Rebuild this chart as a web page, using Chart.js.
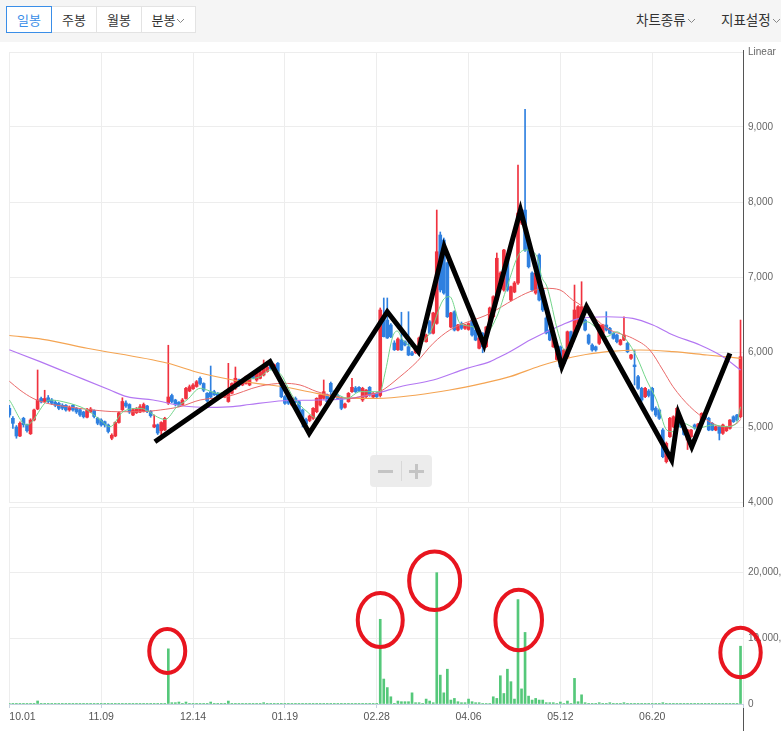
<!DOCTYPE html>
<html lang="ko">
<head>
<meta charset="utf-8">
<title>일봉 차트</title>
<script src="https://cdn.jsdelivr.net/npm/chart.js@4.4.1/dist/chart.umd.min.js"></script>
<style>
html,body{margin:0;padding:0;background:#fff;}
body{position:relative;width:781px;height:731px;overflow:hidden;font-family:"Noto Sans CJK KR","Noto Sans",sans-serif;}
#topbar{position:absolute;left:0;top:0;width:781px;height:42px;background:#f5f5f5;}
.tab{position:absolute;top:6px;height:27px;box-sizing:border-box;border:1px solid #e3e3e3;background:#fff;color:#333;font-size:13px;line-height:25px;text-align:center;}
.tab.on{border-color:#3a8ee8;color:#3a8ee8;z-index:2;}
.menu{position:absolute;top:9px;font-size:13.5px;line-height:20px;color:#333;white-space:nowrap;}
.chev{display:inline-block;vertical-align:middle;margin-left:1px;}
canvas{position:absolute;left:0;}
#axisLine{position:absolute;left:743px;top:50px;width:1px;height:681px;background:#555;}
#zoomBox{position:absolute;left:370px;top:455px;width:62px;height:32px;background:#ececec;border-radius:4px;}
#zoomBox div{position:absolute;background:#c4c4c4;}
</style>
</head>
<body>
<div id="topbar">
  <div class="tab on" style="left:6px;width:46px;">일봉</div>
  <div class="tab" style="left:51px;width:46px;">주봉</div>
  <div class="tab" style="left:96px;width:46px;">월봉</div>
  <div class="tab" style="left:141px;width:55px;">분봉<svg class="chev" width="9" height="6"><polyline points="1,1 4.5,4.5 8,1" fill="none" stroke="#888" stroke-width="1"/></svg></div>
  <div class="menu" style="left:636px;">차트종류<svg class="chev" width="9" height="6"><polyline points="1,1 4.5,4.5 8,1" fill="none" stroke="#888" stroke-width="1"/></svg></div>
  <div class="menu" style="left:721px;">지표설정<svg class="chev" width="9" height="6"><polyline points="1,1 4.5,4.5 8,1" fill="none" stroke="#888" stroke-width="1"/></svg></div>
</div>

<canvas id="priceChart" width="781" height="470" style="top:42px"></canvas>
<div id="axisLine"></div>
<canvas id="volChart" width="781" height="227" style="top:504px"></canvas>

<div id="zoomBox">
  <div style="left:8px;top:15px;width:15px;height:3px;"></div>
  <div style="left:31px;top:6px;width:1px;height:20px;background:#d8d8d8;"></div>
  <div style="left:39px;top:15px;width:15px;height:3px;"></div>
  <div style="left:45px;top:9px;width:3px;height:15px;"></div>
</div>

<script>
// x axis: one bar per trading day, labels every 26 bars
var tickIdx = [0, 26, 52, 78, 104, 130, 156, 182];
var tickLabels = ['10.01', '11.09', '12.14', '01.19', '02.28', '04.06', '05.12', '06.20'];

var opens = [
  5250, 5116, 5000, 4880, 5116, 5030, 4910, 5093, 5240, 5380,
  5340, 5390, 5360, 5330, 5316, 5290, 5290, 5227, 5290, 5249,
  5230, 5200, 5130, 5200, 5220, 5116, 5093, 5071, 5027, 4850,
  4880, 5060, 5230, 5320, 5300, 5160, 5190, 5200, 5210, 5280,
  5210, 5000, 5030, 4950, 4960, 5320, 5420, 5360, 5330, 5300,
  5380, 5480, 5510, 5540, 5650, 5580, 5450, 5470, 5470, 5450,
  5400, 5400, 5340, 5450, 5516, 5630, 5560, 5580, 5560, 5720,
  5627, 5649, 5693, 5740, 5850, 5780, 5850, 5582, 5404, 5382,
  5293, 5380, 5337, 5227, 5100, 5086, 5116, 5204, 5293, 5382,
  5427, 5582, 5470, 5420, 5382, 5262, 5337, 5471, 5520, 5529,
  5360, 5404, 5529, 5400, 5449, 5420, 6470, 6426, 6360, 6120,
  6030, 6160, 6137, 6070, 5990, 5990, 6070, 6160, 6137, 6404,
  6250, 6382, 7560, 7493, 7190, 6333, 6537, 6293, 6382, 6316,
  6300, 6426, 6293, 6050, 6250, 6070, 6333, 6470, 6700, 6933,
  6827, 7270, 6693, 6800, 6920, 7720, 7893, 7493, 7053, 6786,
  7293, 6826, 6453, 6293, 6070, 5900, 6070, 5849, 5937, 6270,
  6204, 6382, 6400, 6426, 6226, 6093, 6070, 6116, 6250, 6360,
  6316, 6250, 6226, 6100, 6160, 6116, 5916, 5827, 5671, 5516,
  5404, 5480, 5516, 5250, 5227, 4960, 4538, 4871, 5004, 5093,
  5093, 5000, 4827, 4871, 5027, 4990, 5093, 5180, 5116, 5049,
  4960, 5004, 4916, 4950, 4982, 5137, 5160, 5137
];
var highs = [
  5290, 5140, 5020, 5070, 5130, 5040, 5110, 5240, 5760, 5400,
  5490, 5420, 5380, 5350, 5330, 5310, 5300, 5280, 5300, 5260,
  5240, 5210, 5250, 5260, 5230, 5130, 5110, 5080, 5040, 4910,
  5070, 5200, 5390, 5350, 5310, 5250, 5260, 5300, 5320, 5290,
  5220, 5160, 5040, 5070, 5130, 6090, 5440, 5370, 5340, 5380,
  5530, 5560, 5580, 5620, 5670, 5590, 5460, 5813, 5490, 5460,
  5450, 5480, 5849, 5590, 5800, 5640, 5630, 5680, 5660, 5730,
  5730, 5760, 5893, 5870, 5893, 5840, 5860, 5600, 5420, 5400,
  5390, 5400, 5350, 5240, 5120, 5160, 5260, 5390, 5440, 5627,
  5440, 5600, 5490, 5440, 5400, 5320, 5460, 5649, 5540, 5540,
  5530, 5500, 5540, 5460, 5460, 6587, 6720, 6720, 6380, 6150,
  6190, 6530, 6150, 6537, 6010, 6060, 6200, 6300, 6240, 6420,
  6530, 7893, 7600, 7520, 7200, 6530, 6550, 6370, 6400, 6370,
  6390, 6440, 6310, 6200, 6260, 6340, 6600, 6750, 7320, 7070,
  7370, 7290, 6880, 6940, 8493, 7900, 9235, 7510, 7070, 7070,
  7310, 6840, 6470, 6310, 6220, 6080, 6080, 6040, 6280, 6280,
  6893, 6620, 6937, 6440, 6240, 6110, 6080, 6370, 6370, 6537,
  6330, 6260, 6240, 6170, 6470, 6130, 5970, 6027, 5690, 5530,
  5530, 5500, 5530, 5270, 5240, 4980, 4800, 5130, 5150, 5260,
  5110, 5010, 4970, 4970, 5040, 5050, 5190, 5190, 5130, 5060,
  5010, 5010, 5040, 5010, 5100, 5150, 5170, 6426
];
var lows = [
  5130, 4982, 4850, 4870, 5000, 4930, 4900, 5080, 5230, 5320,
  5330, 5320, 5300, 5270, 5230, 5230, 5210, 5210, 5210, 5180,
  5140, 5120, 5120, 5190, 5120, 5030, 5010, 5000, 4920, 4830,
  4870, 5050, 5220, 5260, 5180, 5150, 5180, 5190, 5200, 5190,
  5130, 4990, 4900, 4830, 4950, 5300, 5320, 5280, 5270, 5290,
  5370, 5470, 5500, 5530, 5560, 5470, 5330, 5390, 5420, 5390,
  5390, 5390, 5330, 5440, 5500, 5540, 5550, 5570, 5550, 5640,
  5610, 5640, 5680, 5730, 5770, 5770, 5700, 5390, 5300, 5300,
  5280, 5320, 5170, 5000, 4960, 5070, 5100, 5190, 5280, 5370,
  5320, 5420, 5390, 5370, 5230, 5250, 5330, 5460, 5460, 5470,
  5340, 5390, 5410, 5390, 5390, 5400, 6200, 6180, 6190, 6020,
  6020, 6020, 6080, 5950, 5950, 5980, 6060, 6150, 6130, 6240,
  6240, 6370, 6800, 6770, 6460, 6320, 6280, 6280, 6300, 6300,
  6290, 6210, 6150, 6040, 5990, 6060, 6320, 6460, 6690, 6920,
  6810, 6810, 6680, 6790, 6900, 7700, 7340, 7120, 6810, 6770,
  6680, 6540, 6240, 6150, 6060, 5890, 5790, 5830, 5920, 6060,
  6190, 6370, 6390, 6280, 6100, 6010, 6010, 6100, 6240, 6280,
  6240, 6170, 6120, 6090, 6150, 5990, 5900, 5560, 5500, 5340,
  5390, 5400, 5210, 5140, 5100, 4590, 4520, 4860, 4990, 5080,
  4990, 4890, 4700, 4860, 4970, 4980, 5080, 5100, 4950, 4950,
  4950, 4827, 4900, 4940, 4970, 5060, 5080, 5120
];
var closes = [
  5160, 5049, 4880, 5050, 5030, 4950, 5093, 5227, 5360, 5340,
  5380, 5340, 5316, 5290, 5249, 5250, 5227, 5260, 5227, 5200,
  5160, 5137, 5227, 5240, 5140, 5050, 5027, 5027, 4940, 4890,
  5060, 5190, 5340, 5280, 5200, 5230, 5240, 5270, 5300, 5210,
  5150, 5030, 4920, 5060, 5116, 5400, 5340, 5300, 5290, 5360,
  5516, 5537, 5560, 5604, 5580, 5490, 5350, 5400, 5430, 5410,
  5440, 5470, 5450, 5580, 5650, 5560, 5620, 5670, 5650, 5650,
  5716, 5738, 5783, 5800, 5780, 5830, 5716, 5404, 5316, 5316,
  5382, 5330, 5182, 5093, 5040, 5147, 5249, 5382, 5427, 5471,
  5337, 5471, 5400, 5380, 5249, 5307, 5449, 5529, 5470, 5480,
  5516, 5493, 5427, 5450, 5404, 6560, 6204, 6187, 6204, 6030,
  6173, 6027, 6093, 5960, 5960, 6050, 6187, 6293, 6226, 6250,
  6520, 7337, 6827, 6786, 6470, 6520, 6293, 6360, 6316, 6360,
  6380, 6226, 6160, 6187, 6070, 6333, 6587, 6737, 7250, 7053,
  7360, 6827, 6870, 6920, 7853, 7893, 7360, 7137, 6827, 7053,
  6693, 6560, 6253, 6160, 6204, 6070, 5804, 6027, 6270, 6070,
  6560, 6604, 6604, 6293, 6116, 6027, 6027, 6360, 6360, 6293,
  6250, 6182, 6137, 6160, 6226, 6004, 5960, 5804, 5516, 5360,
  5516, 5420, 5227, 5160, 5116, 4604, 4782, 5116, 5137, 5249,
  5004, 4900, 4960, 4960, 4987, 5040, 5182, 5116, 4960, 4960,
  5004, 4916, 5027, 5000, 5093, 5071, 5093, 5937
];
var volume = [
  30000, 20000, 40000, 30000, 20000, 20000, 30000, 30000, 460000, 30000,
  20000, 20000, 20000, 20000, 30000, 20000, 20000, 20000, 20000, 20000,
  20000, 20000, 20000, 20000, 20000, 20000, 20000, 20000, 30000, 30000,
  30000, 30000, 40000, 20000, 20000, 20000, 20000, 20000, 20000, 20000,
  20000, 30000, 30000, 30000, 40000, 8400000, 200000, 200000, 300000, 30000,
  300000, 40000, 30000, 30000, 20000, 20000, 30000, 300000, 30000, 20000,
  20000, 30000, 450000, 40000, 40000, 30000, 20000, 30000, 30000, 20000,
  30000, 30000, 200000, 40000, 30000, 30000, 30000, 40000, 30000, 20000,
  20000, 20000, 30000, 30000, 20000, 30000, 30000, 30000, 40000, 40000,
  30000, 30000, 20000, 20000, 30000, 20000, 30000, 40000, 30000, 20000,
  30000, 30000, 20000, 30000, 40000, 12900000, 3800000, 2500000, 1100000, 100000,
  450000, 350000, 350000, 350000, 1700000, 200000, 200000, 100000, 750000, 450000,
  200000, 20000000, 4400000, 1700000, 5300000, 600000, 850000, 350000, 200000, 200000,
  750000, 350000, 200000, 200000, 60000, 60000, 60000, 1100000, 850000, 4300000,
  1600000, 5300000, 3400000, 750000, 15900000, 2300000, 10900000, 1200000, 600000, 850000,
  600000, 600000, 200000, 200000, 200000, 60000, 300000, 60000, 450000, 60000,
  3900000, 350000, 1400000, 200000, 40000, 30000, 30000, 200000, 30000, 30000,
  200000, 30000, 20000, 30000, 200000, 30000, 30000, 40000, 30000, 30000,
  20000, 30000, 30000, 30000, 40000, 200000, 40000, 30000, 30000, 20000,
  30000, 20000, 30000, 30000, 20000, 20000, 30000, 20000, 20000, 20000,
  20000, 30000, 20000, 20000, 30000, 30000, 20000, 8800000
];

// moving averages as [bar index, price]
var ma5 = [
  [0, 5360], [4.9, 5027], [11.5, 5360], [15.2, 5337], [22, 5227], [25.7, 5093], [28.5, 5004],
  [32.2, 5204], [37, 5249], [42.7, 5116], [44.1, 5100], [47.5, 5271], [50.3, 5360], [54, 5516],
  [56, 5493], [58.8, 5449], [62.5, 5493], [67.3, 5627], [71, 5671], [73.8, 5760], [76.6, 5716],
  [80.3, 5404], [84.3, 5204], [87.1, 5116], [89.9, 5271], [92.8, 5427], [95.6, 5382], [99.3, 5471],
  [104.9, 5471], [106.5, 5750], [108.5, 6200], [109.8, 6280], [111.4, 6160], [114.3, 6070],
  [119, 6250], [122.8, 6693], [124.7, 6737], [127.6, 6382], [131.2, 6337], [134, 6204],
  [138, 6470], [140.9, 6870], [144.5, 7320], [146.5, 7360], [149.4, 7270], [150.7, 7004],
  [152.2, 6870], [155.4, 6249], [157.2, 6027], [159.6, 6204], [163.4, 6404], [166.3, 6316],
  [169.1, 6204], [171.9, 6270], [174.7, 6160], [177.6, 5937], [180.4, 5627], [183.2, 5360],
  [186.1, 4960], [187.9, 4937], [190.8, 5049], [194.5, 4982], [199.3, 5027], [203, 5004],
  [205.8, 5049], [207, 5270]
];
var ma20 = [
  [0, 5610], [3, 5493], [6.7, 5382], [10.7, 5316], [16.3, 5271], [23.7, 5227], [30.5, 5204],
  [37, 5204], [42.7, 5227], [48.3, 5271], [54, 5360], [61.6, 5404], [71, 5545], [77.5, 5582],
  [82.3, 5560], [87.1, 5471], [92.8, 5404], [96.4, 5382], [101.2, 5427], [104.9, 5471],
  [110.6, 5671], [115.4, 5871], [120, 6116], [124.7, 6293], [136.1, 6515], [142.6, 6693],
  [147.4, 6804], [151.9, 6849], [155.9, 6827], [159.5, 6693], [162.4, 6604], [169.2, 6316],
  [176.5, 6182], [181.3, 6027], [185, 5760], [187.9, 5537], [192.7, 5271], [197.5, 5093],
  [202, 5004], [206, 5049], [207, 5100]
];
var ma60 = [
  [0, 6030], [8.7, 5871], [18, 5693], [28.5, 5493], [33.3, 5404], [40.7, 5360], [49.2, 5280],
  [56.8, 5262], [63.3, 5271], [68, 5300], [77.5, 5350], [87.1, 5360], [96.4, 5382], [104, 5449],
  [110.6, 5537], [120, 5627], [129.5, 5782], [136.1, 5871], [138, 5916], [141.7, 6004],
  [147.4, 6160], [155.9, 6350], [161.5, 6449], [169.2, 6470], [176.5, 6449], [182.2, 6360],
  [187.9, 6227], [195.5, 6093], [202, 5937], [207, 5760]
];
var ma120 = [
  [0, 6220], [9.5, 6169], [22, 6050], [44.6, 5853], [54, 5720], [63.3, 5627], [71, 5575],
  [77.5, 5537], [87, 5449], [96.4, 5382], [104, 5382], [115.4, 5427], [124.7, 5493], [134, 5582],
  [141.7, 5671], [150.2, 5813], [159.5, 5933], [169.2, 6004], [178.5, 6027], [187.8, 6004],
  [197.5, 5960], [207, 5916]
];

// hand drawn black zigzag (bar index, price)
var zigIdx = [41.2, 73.8, 84.9, 107.0, 115.8, 123.1, 134.4, 144.7, 156.4, 163.4, 187.5, 189.4, 193.2, 204.0];
var zigVal = [4804, 5871, 4916, 6537, 6004, 7404, 6093, 7893, 5804, 6604, 4560, 5183, 4737, 5982];

// red rings around the volume spikes (bar index, volume at centre)
var ringIdx = [44.7, 105, 120.4, 144.2, 207];
var ringVol = [8070000, 12790000, 18780000, 12790000, 7840000];
var ringSize = [[18, 22], [22.5, 27], [25.5, 29.3], [23.3, 30.3], [20.2, 24.8]];

var UP = '#f0323f', DOWN = '#2f80e0';
var AXISFONT = '"Liberation Sans", Arial, sans-serif';
var X_MIN = -0.1, X_MAX = 207.7;

function setTicks(s) {
  s.ticks = tickIdx.map(function (v) { return { value: v }; }).concat([{ value: s.max }]);
}
function pts(arr) {
  return arr.map(function (p) { return { x: p[0], y: p[1] }; });
}

var candleColors = opens.map(function (o, i) { return closes[i] >= o ? UP : DOWN; });
var bodies = opens.map(function (o, i) { return { x: i, y: [o, closes[i]] }; });
var wicks = lows.map(function (l, i) { return { x: i, y: [l, highs[i]] }; });

new Chart(document.getElementById('priceChart'), {
  type: 'bar',
  data: {
    datasets: [
      { type: 'line', data: zigIdx.map(function (v, i) { return { x: v, y: zigVal[i] }; }),
        borderColor: '#000', borderWidth: 5, pointRadius: 0, tension: 0, borderJoinStyle: 'miter', order: 0 },
      { type: 'line', data: pts(ma5), borderColor: '#72d58a', borderWidth: 1, pointRadius: 0, cubicInterpolationMode: 'monotone', order: 1 },
      { type: 'line', data: pts(ma20), borderColor: '#ea6a6a', borderWidth: 1, pointRadius: 0, cubicInterpolationMode: 'monotone', order: 1 },
      { type: 'line', data: pts(ma60), borderColor: '#b377f2', borderWidth: 1.2, pointRadius: 0, cubicInterpolationMode: 'monotone', order: 1 },
      { type: 'line', data: pts(ma120), borderColor: '#f4a452', borderWidth: 1.2, pointRadius: 0, cubicInterpolationMode: 'monotone', order: 1 },
      { data: bodies, backgroundColor: candleColors, barThickness: 3, minBarLength: 1, grouped: false, order: 2 },
      { data: wicks, backgroundColor: candleColors, barThickness: 1, grouped: false, order: 3 }
    ]
  },
  options: {
    responsive: false, animation: false, devicePixelRatio: 1,
    layout: { autoPadding: false, padding: { top: 10, left: 9, right: 0, bottom: 10 } },
    plugins: { legend: { display: false }, tooltip: { enabled: false } },
    scales: {
      x: {
        type: 'linear', min: X_MIN, max: X_MAX, offset: false,
        afterBuildTicks: setTicks,
        afterFit: function (s) { s.height = 0; s.paddingLeft = 0; s.paddingRight = 0; },
        ticks: { display: false },
        grid: { color: '#ededed', drawTicks: false, offset: false },
        border: { display: false }
      },
      y: {
        position: 'right', min: 4000, max: 10000,
        afterFit: function (s) { s.width = 38; s.paddingTop = 0; s.paddingBottom = 0; },
        ticks: {
          stepSize: 1000, padding: 5, color: '#666', font: { family: AXISFONT, size: 10 },
          callback: function (v) { return v === 10000 ? 'Linear' : v.toLocaleString('en-US'); }
        },
        grid: { color: '#ededed', drawTicks: false },
        border: { display: false }
      }
    }
  }
});

var ringPlugin = {
  id: 'rings',
  afterDatasetsDraw: function (chart) {
    var ctx = chart.ctx, x = chart.scales.x, y = chart.scales.y;
    ctx.save();
    ctx.strokeStyle = '#e8151f';
    ctx.lineWidth = 4;
    ringIdx.forEach(function (idx, k) {
      ctx.beginPath();
      ctx.ellipse(x.getPixelForValue(idx), y.getPixelForValue(ringVol[k]), ringSize[k][0], ringSize[k][1], 0, 0, Math.PI * 2);
      ctx.stroke();
    });
    ctx.restore();
  }
};

new Chart(document.getElementById('volChart'), {
  type: 'bar',
  data: {
    datasets: [{
      data: volume.map(function (v, i) { return { x: i, y: v }; }),
      backgroundColor: '#55c87a', barThickness: 2
    }]
  },
  options: {
    responsive: false, animation: false, devicePixelRatio: 1,
    layout: { autoPadding: false, padding: { top: 3, left: 9, right: 0, bottom: 0 } },
    plugins: { legend: { display: false }, tooltip: { enabled: false } },
    scales: {
      x: {
        type: 'linear', min: X_MIN, max: X_MAX, offset: false,
        afterBuildTicks: setTicks,
        afterFit: function (s) { s.height = 27; s.paddingLeft = 0; s.paddingRight = 0; },
        ticks: {
          autoSkip: false, maxRotation: 0, align: 'inner', padding: 3, color: '#555',
          font: { family: AXISFONT, size: 10.5 },
          callback: function (v) { var k = tickIdx.indexOf(v); return k < 0 ? '' : tickLabels[k]; }
        },
        grid: { color: '#ededed', tickColor: '#c5d0df', tickLength: 4, offset: false },
        border: { color: '#c5d0df' }
      },
      y: {
        position: 'right', min: 0, max: 30000000,
        afterFit: function (s) { s.width = 38; s.paddingTop = 0; s.paddingBottom = 0; },
        ticks: {
          stepSize: 10000000, padding: 5, color: '#666', font: { family: AXISFONT, size: 10 },
          callback: function (v) { return v === 30000000 ? '' : v.toLocaleString('en-US'); }
        },
        grid: { color: '#ededed', drawTicks: false },
        border: { display: false }
      }
    }
  },
  plugins: [ringPlugin]
});
</script>
</body>
</html>
